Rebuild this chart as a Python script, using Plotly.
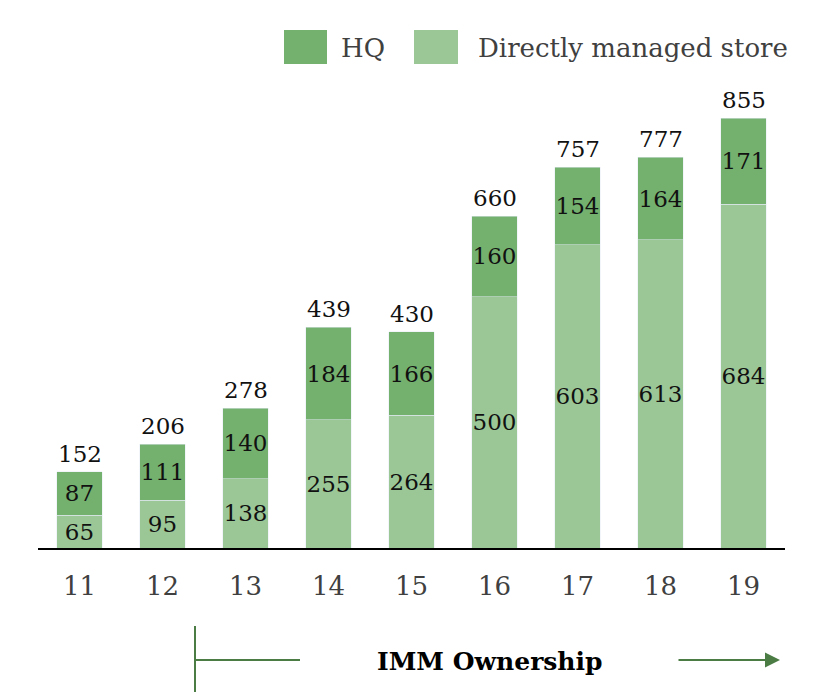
import plotly.graph_objects as go

years = ["11", "12", "13", "14", "15", "16", "17", "18", "19"]
store = [65, 95, 138, 255, 264, 500, 603, 613, 684]
hq = [87, 111, 140, 184, 166, 160, 154, 164, 171]
totals = [152, 206, 278, 439, 430, 660, 757, 777, 855]
series_names = ["HQ", "Directly managed store"]
bottom_label = "IMM Ownership"

C_HQ = "#74b06e"
C_ST = "#9bc796"
C_ARROW = "#4a7c44"
FONT = "DejaVu Serif"

fig = go.Figure()
fig.add_trace(go.Bar(x=years, y=store, name=series_names[1], marker_color=C_ST,
                     text=[str(v) for v in store], textposition="inside", textangle=0,
                     insidetextanchor="middle", constraintext="none",
                     textfont=dict(family=FONT, size=23, color="#111111"),
                     showlegend=False))
fig.add_trace(go.Bar(x=years, y=hq, name=series_names[0], marker_color=C_HQ,
                     text=[str(v) for v in hq], textposition="inside", textangle=0,
                     insidetextanchor="middle", constraintext="none",
                     textfont=dict(family=FONT, size=23, color="#111111"),
                     showlegend=False))

annotations = []
for i, t in enumerate(totals):
    annotations.append(dict(x=i, y=t, xref="x", yref="y", text=str(t), showarrow=False,
                            yanchor="bottom", yshift=3,
                            font=dict(family=FONT, size=23, color="#111111")))

def px(xp):
    return (xp - 38) / 747.0

def py(yp):
    return (548 - yp) / 458.0

shapes = []
# legend swatches
shapes.append(dict(type="rect", xref="paper", yref="paper", x0=px(284), x1=px(327),
                   y0=py(64), y1=py(30), fillcolor=C_HQ, line=dict(width=0)))
shapes.append(dict(type="rect", xref="paper", yref="paper", x0=px(414), x1=px(458),
                   y0=py(64), y1=py(30), fillcolor=C_ST, line=dict(width=0)))
annotations.append(dict(x=px(339), y=py(48), xref="paper", yref="paper", text=series_names[0],
                        showarrow=False, xanchor="left", yanchor="middle",
                        font=dict(family=FONT, size=26, color="#404040")))
annotations.append(dict(x=px(476), y=py(48), xref="paper", yref="paper", text=series_names[1],
                        showarrow=False, xanchor="left", yanchor="middle",
                        font=dict(family=FONT, size=26, color="#404040")))

# bottom ownership marker
shapes.append(dict(type="line", xref="paper", yref="paper", x0=px(195), x1=px(195),
                   y0=py(626), y1=py(692), line=dict(color=C_ARROW, width=2)))
shapes.append(dict(type="line", xref="paper", yref="paper", x0=px(195), x1=px(300),
                   y0=py(660), y1=py(660), line=dict(color=C_ARROW, width=2)))
annotations.append(dict(x=px(490), y=py(661), xref="paper", yref="paper", text="<b>" + bottom_label + "</b>",
                        showarrow=False, xanchor="center", yanchor="middle",
                        font=dict(family=FONT, size=25, color="#000000")))
annotations.append(dict(x=px(780), y=py(660), xref="paper", yref="paper",
                        ax=-103, ay=0, axref="pixel", ayref="pixel",
                        text="", showarrow=True, arrowhead=2, arrowsize=1.5, arrowwidth=2,
                        arrowcolor=C_ARROW))

fig.update_layout(
    barmode="stack",
    bargap=0.45,
    width=812, height=685,
    margin=dict(l=30, r=35, t=82, b=145),
    plot_bgcolor="white", paper_bgcolor="white",
    showlegend=False,
    annotations=annotations,
    shapes=shapes,
    xaxis=dict(type="category", range=[-0.5, 8.5],
               showline=True, linecolor="#000000", linewidth=2, showgrid=False,
               ticks="outside", ticklen=14, tickcolor="rgba(0,0,0,0)",
               tickfont=dict(family=FONT, size=26, color="#404040")),
    yaxis=dict(visible=False, range=[0, 911], showgrid=False),
)

fig.write_html("out.html")
